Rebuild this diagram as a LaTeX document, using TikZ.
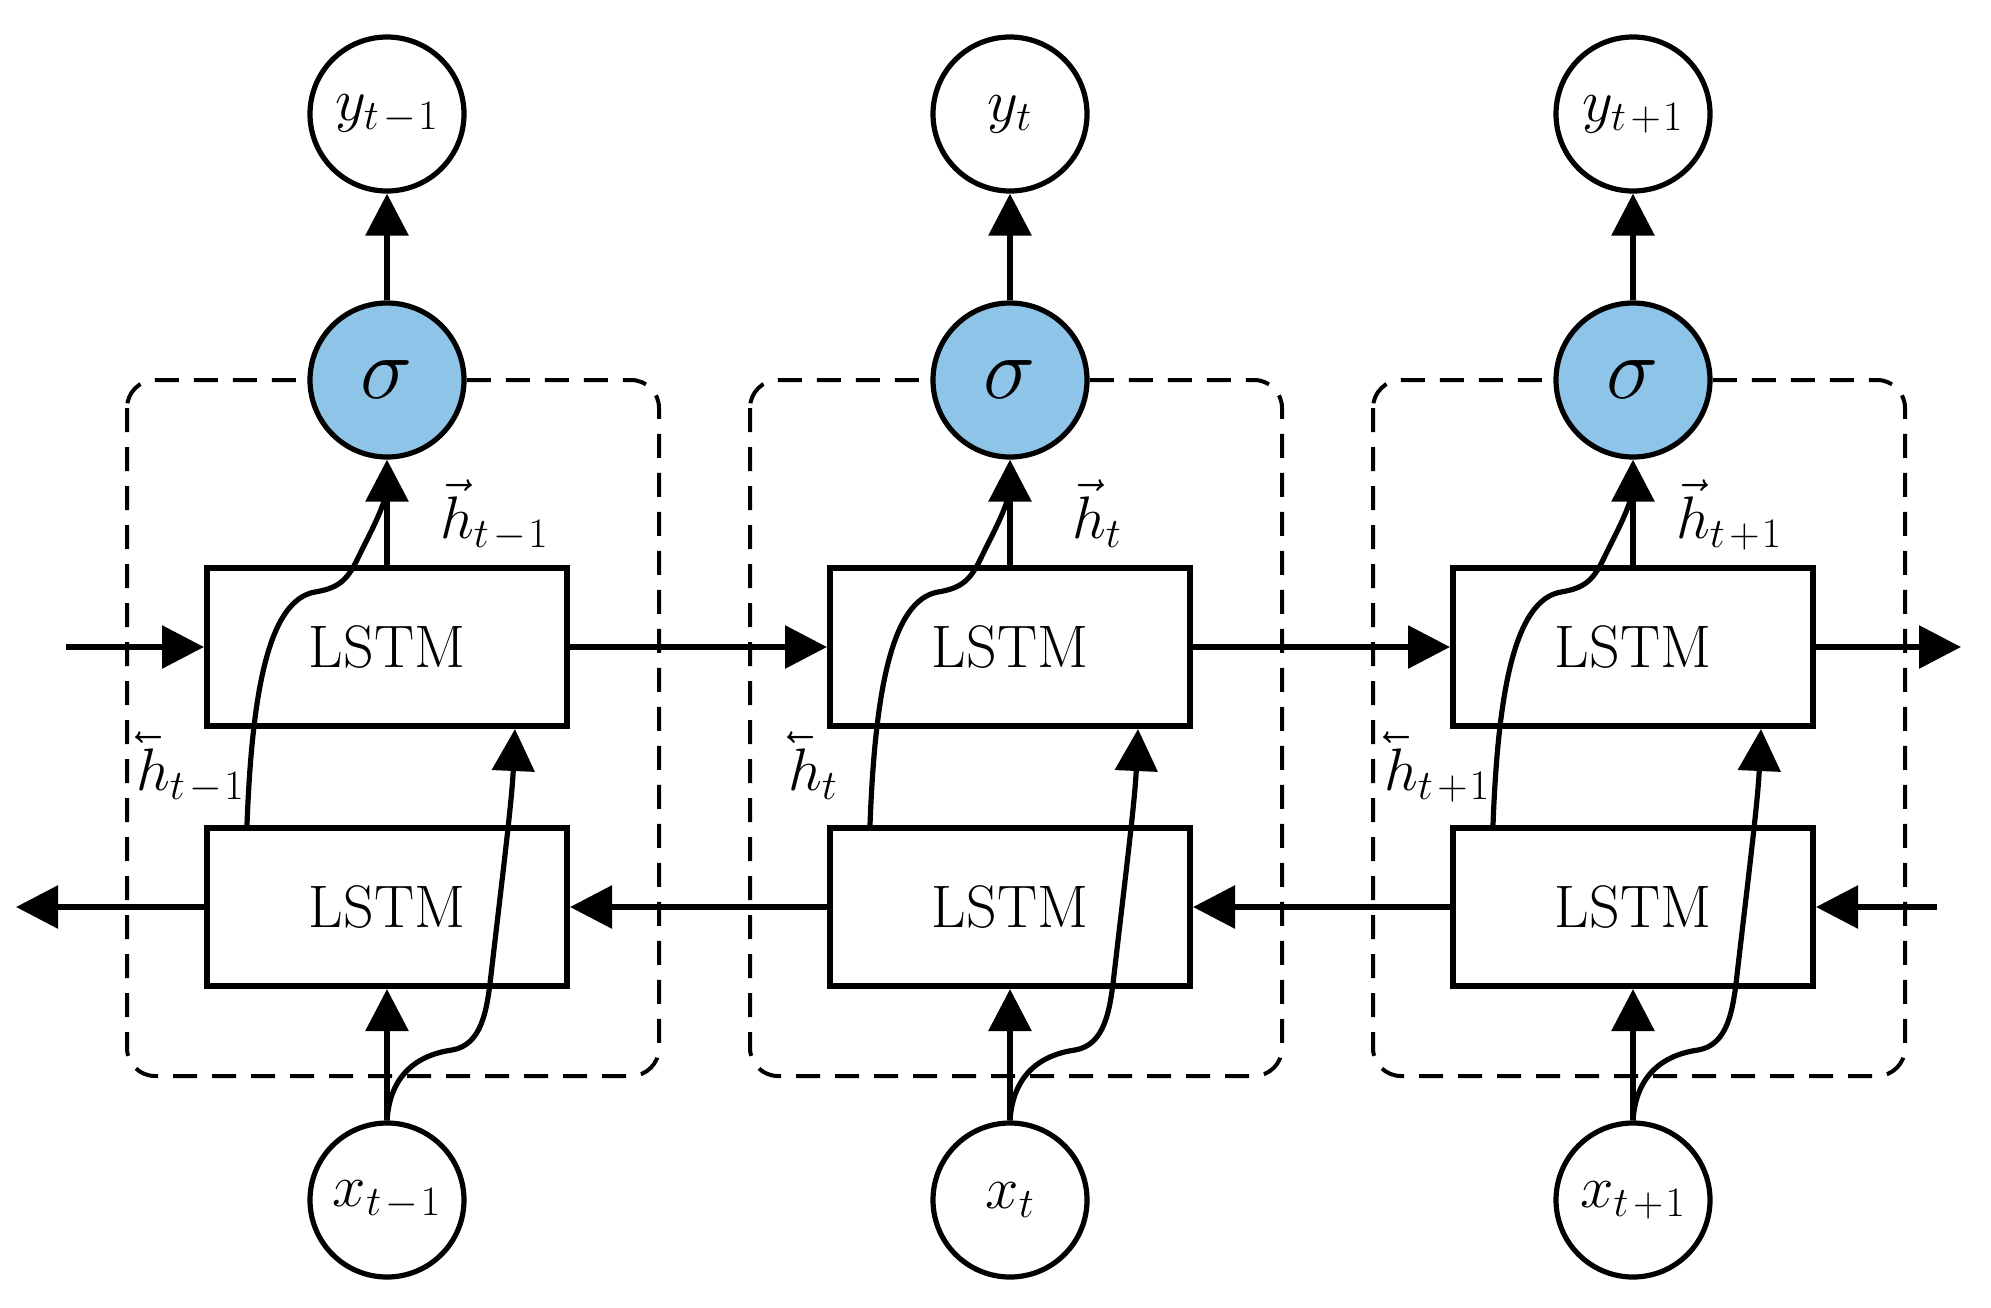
\RequirePackage{fix-cm}
\documentclass[tikz,border=0pt]{standalone}
\usepackage{graphicx}
\usetikzlibrary{arrows.meta,calc}
\definecolor{sigblue}{RGB}{141,196,232}
\newcommand{\lvech}{\reflectbox{$\vec{\reflectbox{$h$}}$}}
\begin{document}
\begin{tikzpicture}[x=0.5pt,y=-0.5pt,line width=3pt,
  circ/.style={circle,draw,fill=white,line width=2.6pt,minimum size=77pt,inner sep=0pt,font=\fontsize{30}{36}\selectfont},
  sigc/.style={circ,fill=sigblue,font=\fontsize{44}{50}\selectfont},
  lstm/.style={rectangle,draw,fill=white,line width=3pt,minimum width=180pt,minimum height=79pt,inner sep=0pt,font=\fontsize{30}{34}\selectfont},
  arr/.style={-{Triangle[length=21pt,width=21pt]},line width=3pt},
  curv/.style={line width=2.6pt},
  dashbox/.style={dash pattern=on 12pt off 7.5pt,line width=2pt,rounded corners=14pt},
  hlab/.style={anchor=base west,inner sep=0pt,font=\fontsize{30}{36}\selectfont},
]
\useasboundingbox (0,0) rectangle (1991,1307);
\foreach \i/\cx/\sub/\rx/\lx in {1/387/{t\mkern2mu-\mkern1mu1}/437/133, 2/1010/{t}/1069/785, 3/1633/{t\mkern2mu+\mkern1mu1}/1673/1381}{
  \draw[dashbox] (\cx-260,380) rectangle (\cx+272,1076);
  \node[circ] (y\i) at (\cx,114) {$y_{\sub}$};
  \node[sigc] (s\i) at (\cx,380) {$\sigma$};
  \node[lstm] (u\i) at (\cx,647) {LSTM};
  \node[lstm] (l\i) at (\cx,907) {LSTM};
  \node[circ] (x\i) at (\cx,1200) {$x_{\sub}$};
  \draw[arr] (s\i.north) -- (y\i.south);
  \draw[arr] (u\i.north) -- (s\i.south);
  \draw[arr] (x\i.north) -- (l\i.south);
  \draw[curv] ($(l\i.north)+(-140,0)$) .. controls (\cx-135,690) and (\cx-118,600) .. (\cx-72,592)
     .. controls (\cx-48,588) and (\cx-40,580) .. (\cx-30,560)
     .. controls (\cx-18,535) and (\cx-5,512) .. ($(s\i.south)+(-1,34)$);
  \draw[curv,-{Triangle[length=21pt,width=21pt]}] (x\i.north) .. controls (\cx+3,1075) and (\cx+30,1055) .. (\cx+65,1050)
     .. controls (\cx+95,1045) and (\cx+100,1010) .. (\cx+104,975)
     .. controls (\cx+115,880) and (\cx+125,800) .. ($(u\i.south)+(128,0)$);
  \node[hlab] (hr\i) at (\rx,538) {$\vec{h}_{\sub}$};
  \node[hlab] (hl\i) at (\lx,790) {\lvech$_{\sub}$};
}
\coordinate (fin) at (66,647);
\coordinate (fout) at (1961,647);
\coordinate (bin) at (1937,907);
\coordinate (bout) at (16,907);
\draw[arr] (fin) -- (u1.west);
\draw[arr] (u1.east) -- (u2.west);
\draw[arr] (u2.east) -- (u3.west);
\draw[arr] (u3.east) -- (fout);
\draw[arr] (bin) -- (l3.east);
\draw[arr] (l3.west) -- (l2.east);
\draw[arr] (l2.west) -- (l1.east);
\draw[arr] (l1.west) -- (bout);
\end{tikzpicture}
\end{document}
